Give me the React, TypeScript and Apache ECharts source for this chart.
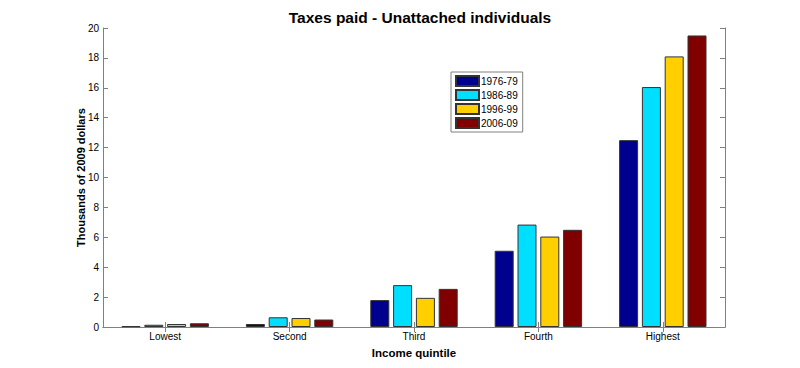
import React, { useEffect, useRef } from "react";
import * as echarts from "echarts";

const categories = ["Lowest", "Second", "Third", "Fourth", "Highest"];
const seriesNames = ["1976-79", "1986-89", "1996-99", "2006-09"];
const v1976 = [0.05, 0.2, 1.8, 5.1, 12.5];
const v1986 = [0.15, 0.65, 2.8, 6.85, 16.05];
const v1996 = [0.2, 0.6, 1.95, 6.05, 18.1];
const v2006 = [0.25, 0.5, 2.55, 6.5, 19.5];
const colors = ["#00008f", "#00dfff", "#ffcf00", "#800000"];

export default function App() {
  const ref = useRef<HTMLDivElement>(null);
  useEffect(() => {
    if (!ref.current) return;
    const chart = echarts.init(ref.current, null, { renderer: "svg" });
    const font = "Liberation Sans, Arial, sans-serif";
    const values = [v1976, v1986, v1996, v2006];
    const axisLine = { show: true, lineStyle: { color: "#808080", width: 1 } };
    chart.setOption({
      animation: false,
      backgroundColor: "#ffffff",
      textStyle: { fontFamily: font },
      title: {
        text: "Taxes paid - Unattached individuals",
        left: 415,
        textAlign: "center",
        top: 4,
        textStyle: { fontSize: 15.5, fontWeight: "bold", color: "#000", fontFamily: font },
      },
      legend: {
        left: 451,
        top: 72,
        orient: "vertical",
        itemWidth: 23,
        itemHeight: 10,
        itemGap: 2,
        padding: [3, 5, 3, 4],
        borderColor: "#808080",
        borderWidth: 1,
        backgroundColor: "#fff",
        textStyle: { fontSize: 10, lineHeight: 10, color: "#000", fontFamily: font, padding: [0, 0, 0, -3] },
        data: seriesNames,
        icon: "rect",
      },
      grid: { left: 103, right: 75, top: 28, bottom: 41 },
      xAxis: [
        {
          type: "category",
          data: categories,
          position: "bottom",
          axisLine,
          axisTick: { show: true, inside: true, alignWithLabel: true, length: 5, lineStyle: { color: "#808080" } },
          axisLabel: { fontSize: 10, color: "#000", margin: 4, fontFamily: font },
          name: "Income quintile",
          nameLocation: "middle",
          nameGap: 20,
          nameMoveOverlap: false,
          nameTextStyle: { fontSize: 11.5, fontWeight: "bold", color: "#000", fontFamily: font },
        },
        {
          type: "category",
          data: categories,
          position: "top",
          axisLine,
          axisTick: { show: true, inside: true, alignWithLabel: true, length: 5, lineStyle: { color: "#808080" } },
          axisLabel: { show: false },
        },
      ],
      yAxis: [
        {
          type: "value",
          min: 0,
          max: 20,
          interval: 2,
          position: "left",
          axisLine,
          axisTick: { show: true, inside: true, length: 5, lineStyle: { color: "#808080" } },
          axisLabel: { fontSize: 10, color: "#000", margin: 4, fontFamily: font },
          splitLine: { show: false },
          name: "Thousands of 2009 dollars",
          nameLocation: "middle",
          nameGap: 17,
          nameMoveOverlap: false,
          nameTextStyle: { fontSize: 11, fontWeight: "bold", color: "#000", fontFamily: font },
        },
        {
          type: "value",
          min: 0,
          max: 20,
          interval: 2,
          position: "right",
          axisLine,
          axisTick: { show: true, inside: true, length: 5, lineStyle: { color: "#808080" } },
          axisLabel: { show: false },
          splitLine: { show: false },
        },
      ],
      series: seriesNames.map((name, i) => ({
        name,
        type: "bar",
        data: values[i],
        barWidth: 19,
        barGap: "20%",
        itemStyle: { color: colors[i], borderColor: "#333", borderWidth: 1 },
      })),
    });
    return () => chart.dispose();
  }, []);
  return <div ref={ref} style={{ width: 800, height: 368, position: "absolute", left: 0, top: 0 }} />;
}
